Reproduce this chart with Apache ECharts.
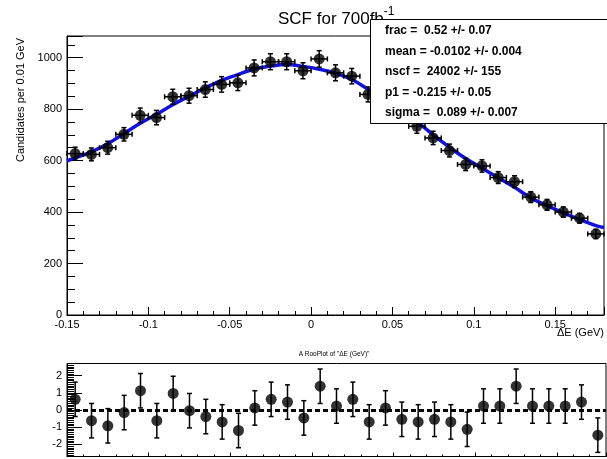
<!DOCTYPE html>
<html><head><meta charset="utf-8">
<script src="https://cdn.jsdelivr.net/npm/echarts@6/dist/echarts.min.js"></script>
<style>html,body{margin:0;padding:0;background:#fff}#c{width:607px;height:459px}</style>
</head><body><div id="c"></div>
<script>
// ---- data ----
const binCenters = [-0.145,-0.135,-0.125,-0.115,-0.105,-0.095,-0.085,-0.075,-0.065,-0.055,-0.045,-0.035,-0.025,-0.015,-0.005,
  0.005,0.015,0.025,0.035,0.045,0.055,0.065,0.075,0.085,0.095,0.105,0.115,0.125,0.135,0.145,0.155,0.165,0.175];
const counts = [627,624,650,702,776,767,848,852,876,896,902,960,984,984,949,
  995,941,928,857,841,780,733,688,639,585,579,534,518,458,428,400,376,315];
const countErrors = [25,25,25,26,28,28,29,29,30,30,30,31,31,31,31,
  32,31,30,29,29,28,27,26,25,24,24,23,23,21,21,20,19,18];
const pulls = [0.62,-0.62,-0.92,-0.15,1.12,-0.62,0.96,-0.04,-0.38,-0.69,-1.19,0.12,0.62,0.46,-0.46,
  1.38,0.23,0.62,-0.69,0.12,-0.54,-0.69,-0.54,-0.69,-1.12,0.23,0.23,1.38,0.23,0.23,0.23,0.46,-1.46];
const pullErrors = [1,1,1,1,1,1,1,1,1,1,1,1,1,1,1,1,1,1,1,1,1,1,1,1,1,1,1,1,1,1,1,1,1];
const fitX = [-0.15,-0.145,-0.135,-0.125,-0.115,-0.105,-0.095,-0.085,-0.075,-0.065,-0.055,-0.045,-0.035,-0.025,-0.015,-0.005,
  0.005,0.015,0.025,0.035,0.045,0.055,0.065,0.075,0.085,0.095,0.105,0.115,0.125,0.135,0.145,0.155,0.165,0.175,0.18];
const fitY = [599,610,634,665,705,745,780,817,850,882,912,934,956,967,973,966,
  955,939,915,877,838,795,751,700,652,608,571,533,496,455,425,397,371,347,340];
const binHalfWidth = 0.005;
const statLines = ['frac =  0.52 +/- 0.07','mean = -0.0102 +/- 0.004','nscf =  24002 +/- 155','p1 = -0.215 +/- 0.05','sigma =  0.089 +/- 0.007'];
const titleMain = 'SCF for 700fb';
const titleSup = '-1';
const pullTitle = 'A RooPlot of "ΔE (GeV)"';
const xTitle = 'ΔE (GeV)';
const yTitle = 'Candidates per 0.01 GeV';

// ---- chart ----
const F = '"Liberation Sans", Arial, Helvetica, sans-serif';
const chart = echarts.init(document.getElementById('c'), null, {renderer:'canvas'});

function errRender(params, api){
  const x = api.value(0), y = api.value(1), e = api.value(2), h = api.value(3);
  const c = api.coord([x, y]), t = api.coord([x, y + e]), b = api.coord([x, y - e]);
  const st = {stroke:'#000', lineWidth:1.5};
  const ch = [
    {type:'line', shape:{x1:c[0], y1:t[1], x2:c[0], y2:b[1]}, style:st},
    {type:'line', shape:{x1:c[0]-2.5, y1:t[1], x2:c[0]+2.5, y2:t[1]}, style:st},
    {type:'line', shape:{x1:c[0]-2.5, y1:b[1], x2:c[0]+2.5, y2:b[1]}, style:st}
  ];
  if (h > 0) {
    const l = api.coord([x - h, y]), r = api.coord([x + h, y]);
    ch.push({type:'line', shape:{x1:l[0], y1:c[1], x2:r[0], y2:c[1]}, style:st});
    ch.push({type:'line', shape:{x1:l[0], y1:c[1]-2.5, x2:l[0], y2:c[1]+2.5}, style:st});
    ch.push({type:'line', shape:{x1:r[0], y1:c[1]-2.5, x2:r[0], y2:c[1]+2.5}, style:st});
  }
  return {type:'group', children:ch};
}

const xFmt = v => (Math.abs(v*20 - Math.round(v*20)) < 1e-6 ? String(+v.toFixed(2)) : '');
const lbl = {color:'#000', fontSize:11, fontFamily:F};
function xAx(grid, interval, len, labels){
  return {gridIndex:grid, type:'value', position:'bottom', min:-0.15, max:0.18, interval:interval,
    axisLine:{show:labels !== null, onZero:false, lineStyle:{color:'#000', width:1}},
    axisTick:{show:true, inside:true, length:len, lineStyle:{color:'#000', width:1}},
    axisLabel: labels ? Object.assign({show:true, margin:4, formatter:xFmt}, lbl) : {show:false},
    splitLine:{show:false}};
}
function yAx(grid, min, max, interval, len, main, fmt){
  const a = {gridIndex:grid, type:'value', position:'left', min:min, max:max,
    axisLine:{show:main, onZero:false, lineStyle:{color:'#000', width:1}},
    axisTick:{show:true, inside:true, length:len, lineStyle:{color:'#000', width:1}},
    axisLabel: main ? Object.assign({show:true, margin:5, formatter:fmt}, lbl) : {show:false},
    splitLine:{show:false}};
  if (interval) a.interval = interval; else a.splitNumber = 5;
  return a;
}

const option = {
  animation:false,
  backgroundColor:'#fff',
  title:[
    {text:'{m|' + titleMain + '}{s|' + titleSup + '}', left:278, top:6, padding:0,
     textStyle:{fontWeight:'normal', rich:{
       m:{fontSize:17, fontFamily:F, fontWeight:'normal', color:'#000', lineHeight:22, verticalAlign:'bottom'},
       s:{fontSize:12, fontFamily:F, fontWeight:'normal', color:'#000', lineHeight:22, verticalAlign:'top'}}}},
    {text:pullTitle, left:334, top:351, textAlign:'center', padding:0,
     textStyle:{fontSize:6.5, fontFamily:F, color:'#000', fontWeight:'normal'}}
  ],
  grid:[
    {left:67, right:1, top:36, height:279, show:true, borderColor:'#000', borderWidth:1},
    {left:67, right:1, top:363.5, height:93, show:true, borderColor:'#000', borderWidth:1}
  ],
  xAxis:[
    xAx(0, 0.05, 8, true),
    xAx(0, 0.01, 4, null),
    xAx(1, 0.05, 4, false),
    xAx(1, 0.01, 2, null)
  ],
  yAxis:[
    yAx(0, 0, 1084, 200, 16, true, v => (v % 200 === 0 ? String(v) : '')),
    yAx(0, 0, 1084, 50, 8, false),
    yAx(1, -2.7, 2.7, null, 15, true, v => (Math.abs(v - Math.round(v)) < 1e-6 ? String(Math.round(v)) : '')),
    yAx(1, -2.7, 2.7, 0.1, 7, false)
  ],
  series:[
    {type:'line', name:'fit', xAxisIndex:0, yAxisIndex:0, smooth:0.4, showSymbol:false, z:3,
     data:fitX.map((x,i) => [x, fitY[i]]),
     lineStyle:{color:'#1212dc', width:3.5}},
    {type:'custom', name:'errors', xAxisIndex:0, yAxisIndex:0, z:4, renderItem:errRender,
     encode:{x:0, y:1},
     data:binCenters.map((x,i) => [x, counts[i], countErrors[i], binHalfWidth])},
    {type:'scatter', name:'data', xAxisIndex:0, yAxisIndex:0, z:5, symbol:'circle', symbolSize:11,
     itemStyle:{color:'#000'},
     data:binCenters.map((x,i) => [x, counts[i]])},
    {type:'custom', name:'pullErrors', xAxisIndex:2, yAxisIndex:2, z:4, renderItem:errRender,
     encode:{x:0, y:1},
     data:binCenters.map((x,i) => [x, pulls[i], pullErrors[i], 0])},
    {type:'scatter', name:'pulls', xAxisIndex:2, yAxisIndex:2, z:5, symbol:'circle', symbolSize:11,
     itemStyle:{color:'#000'},
     data:binCenters.map((x,i) => [x, pulls[i]]),
     markLine:{silent:true, symbol:'none', label:{show:false},
       lineStyle:{color:'#000', width:3, type:[5,3]},
       data:[{yAxis:0}]}}
  ],
  graphic:[
    {type:'text', x:20.5, y:100, rotation:Math.PI/2, z:100,
     style:{text:yTitle, fill:'#000', font:'11px ' + F, textAlign:'center', textVerticalAlign:'middle'}},
    {type:'text', x:604, y:333, z:100,
     style:{text:xTitle, fill:'#000', font:'11px ' + F, textAlign:'right', textVerticalAlign:'middle'}},
    {type:'rect', z:100, shape:{x:370.5, y:19.5, width:240, height:104},
     style:{fill:'#fff', stroke:'#000', lineWidth:1}}
  ].concat(statLines.map((t,i) => ({type:'text', z:101, x:385, y:31 + i*20.4,
     style:{text:t, fill:'#000', font:'bold 12px ' + F, textAlign:'left', textVerticalAlign:'middle'}})))
};
chart.setOption(option);
</script></body></html>
